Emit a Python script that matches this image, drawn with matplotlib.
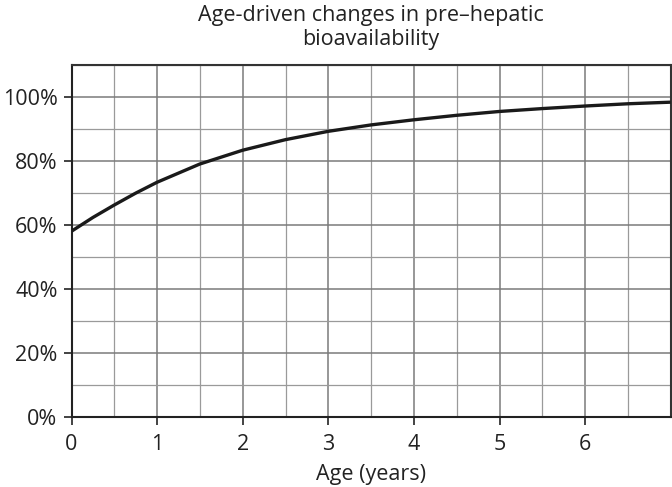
import matplotlib
matplotlib.use("Agg")
import matplotlib.pyplot as plt
from matplotlib.ticker import MultipleLocator, PercentFormatter

age_years = [0, 0.25, 0.5, 0.75, 1.0, 1.5, 2.0, 2.5, 3.0, 3.5, 4.0, 4.5, 5.0, 5.5, 6.0, 6.5, 7.0]
bioavailability = [58.0, 62.3, 66.2, 69.9, 73.3, 79.0, 83.3, 86.6, 89.2, 91.2, 92.8, 94.2, 95.4, 96.3, 97.1, 97.8, 98.3]

title = "Age-driven changes in pre\u2013hepatic\nbioavailability"
xlabel = "Age (years)"

plt.rcParams['font.family'] = ['Open Sans', 'DejaVu Sans']

fig = plt.figure(figsize=(6.72, 4.87), dpi=100)
ax = fig.add_axes([71.5/672, (487-417)/487, (670.7-71.5)/672, (417-64.7)/487])

ax.plot(age_years, bioavailability, color='#1a1a1a', lw=2.4, solid_capstyle='butt', zorder=3)

ax.set_xlim(0, 7)
ax.set_ylim(0, 110)
ax.xaxis.set_major_locator(MultipleLocator(1))
ax.xaxis.set_minor_locator(MultipleLocator(0.5))
ax.yaxis.set_major_locator(MultipleLocator(20))
ax.yaxis.set_minor_locator(MultipleLocator(10))
ax.yaxis.set_major_formatter(PercentFormatter(decimals=0))
ax.set_xticks([0, 1, 2, 3, 4, 5, 6])

ax.grid(which='major', color='#7a7a7a', lw=1.1)
ax.grid(which='minor', color='#9a9a9a', lw=0.9)
ax.set_axisbelow(True)

ax.tick_params(which='major', direction='out', length=6, width=1.2, color='#222222',
               labelsize=15.5, labelcolor='#222222')
ax.tick_params(axis='x', which='major', pad=6)
ax.tick_params(axis='y', which='major', pad=4)
ax.tick_params(which='minor', length=0)
for s in ['left', 'bottom']:
    ax.spines[s].set_color('#222222')
    ax.spines[s].set_linewidth(1.5)
for s in ['top', 'right']:
    ax.spines[s].set_color('#333333')
    ax.spines[s].set_linewidth(1.5)

ax.set_xlabel(xlabel, fontsize=15.5, color='#222222', labelpad=7)
ax.set_title(title, fontsize=15.5, color='#222222', pad=14, linespacing=1.2)

fig.savefig("out.png", dpi=100)
